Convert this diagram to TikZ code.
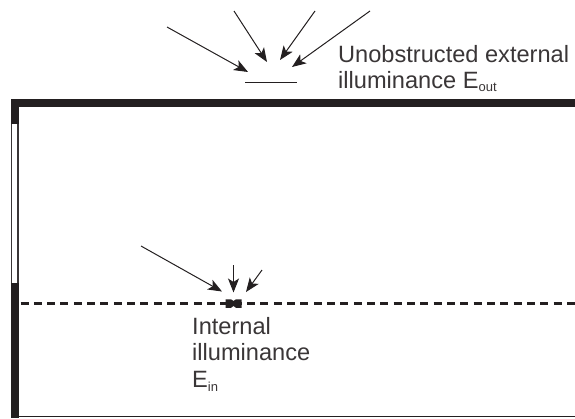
\documentclass[tikz,border=0pt]{standalone}
\usepackage{fontspec}
\setmainfont{Liberation Sans}
\usetikzlibrary{arrows.meta}
\definecolor{ink}{HTML}{231F20}
\definecolor{txt}{HTML}{3A3637}
\newcommand{\subs}[1]{\raisebox{-3.5pt}{\fontsize{13}{13}\selectfont #1}}
\tikzset{
  ray/.style={draw=ink,line width=1pt,-{Stealth[length=14pt,width=11pt,inset=3.5pt]}},
  lab/.style={anchor=base west,inner sep=0pt,text=txt,font=\fontsize{23.6}{26}\selectfont,align=left}
}
\begin{document}
\begin{tikzpicture}[x=1pt,y=-1pt]
\useasboundingbox (0,0) rectangle (575,418);
% walls
\fill[ink] (10.5,98.5) rectangle (575,106.5);
\fill[ink] (10.5,98.5) rectangle (18.5,124);
\fill[ink] (10.5,283) rectangle (18.5,418);
\fill[ink!90] (10.5,124) rectangle (12,283);
\fill[ink!90] (17,124) rectangle (18.5,283);
\draw[ink,line width=1.2pt] (18,416.5) -- (575,416.5);
% working plane
\draw[ink,line width=2.6pt,dash pattern=on 8pt off 5.33pt,dash phase=-0.5pt] (20,303.3) -- (575,303.3);
\fill[ink] (225.7,299.3) -- (231,299.3) -- (233.5,301) -- (236,299.3) -- (241.7,299.3) -- (241.7,307.8) -- (236,307.8) -- (233.5,306) -- (231,307.8) -- (225.7,307.8) -- cycle;
% external sensor
\coordinate (s) at (245,82);
\coordinate (e) at (297,82);
\draw[ink,line width=1pt] (s) -- (e);
\coordinate (a1) at (167,27); \coordinate (b1) at (248,72);
\coordinate (a2) at (234,11); \coordinate (b2) at (267,62);
\coordinate (a3) at (315,11); \coordinate (b3) at (280,60);
\coordinate (a4) at (370,11); \coordinate (b4) at (292,67);
\draw[ray] (a1) -- (b1);
\draw[ray] (a2) -- (b2);
\draw[ray] (a3) -- (b3);
\draw[ray] (a4) -- (b4);
% internal arrows
\coordinate (c1) at (141,246); \coordinate (d1) at (222,291.5);
\coordinate (c2) at (233.5,265); \coordinate (d2) at (233.5,292.5);
\coordinate (c3) at (262,270); \coordinate (d3) at (246,292);
\draw[ray] (c1) -- (d1);
\draw[ray] (c2) -- (d2);
\draw[ray] (c3) -- (d3);
% labels
\node[lab] (t1) at (338,62) {Unobstructed external};
\node[lab] (t2) at (338,88) {illuminance E\subs{out}};
\node[lab] (t3) at (192,334) {Internal};
\node[lab] (t4) at (192,360.7) {illuminance};
\node[lab] (t5) at (192,387.5) {E\subs{in}};
\end{tikzpicture}
\end{document}
